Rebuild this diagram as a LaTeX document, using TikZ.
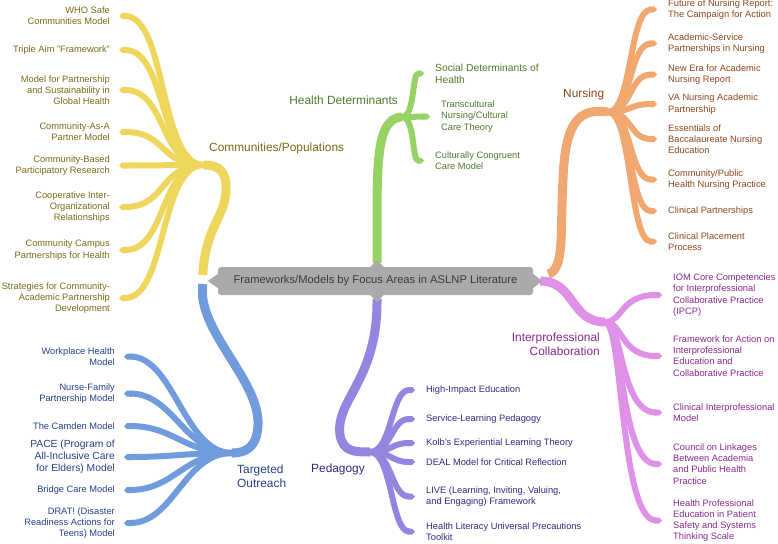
\documentclass[tikz,border=0pt]{standalone}
\usepackage{fontspec}
\setmainfont{Liberation Sans}
\usetikzlibrary{arrows.meta}
\definecolor{ylw}{RGB}{238,213,92}
\definecolor{ytx}{RGB}{122,106,22}
\definecolor{grn}{RGB}{150,210,100}
\definecolor{gtx}{RGB}{78,122,45}
\definecolor{org}{RGB}{240,168,112}
\definecolor{otx}{RGB}{140,72,30}
\definecolor{pnk}{RGB}{222,145,230}
\definecolor{ptx}{RGB}{138,40,142}
\definecolor{prp}{RGB}{146,134,224}
\definecolor{utx}{RGB}{48,42,128}
\definecolor{blu}{RGB}{112,156,222}
\definecolor{btx}{RGB}{36,64,136}
\definecolor{ctrgray}{RGB}{170,170,170}
\definecolor{ctrtx}{RGB}{58,58,58}

\begin{document}
\begin{tikzpicture}[x=1pt,y=-1pt,
	lf/.style={font=\fontsize{9.3}{11.2}\selectfont, inner ysep=0pt},
	lfl/.style={lf, anchor=east, align=right, inner xsep=9pt},
	lfr/.style={lf, anchor=west, align=left, inner xsep=11pt},
	big/.style={font=\fontsize{10.3}{12}\selectfont},
	hb/.style={font=\fontsize{11.9}{14}\selectfont, inner sep=0pt},
	twig/.style={line width=6pt, -{Triangle Cap}},
	stem/.style={line width=9pt}]
			%%%%% START %%%%%
			\useasboundingbox (0,0) rectangle (778,543);
			
			\node[fill=ctrgray, rounded corners=3pt, minimum width=315pt, minimum height=28pt, text=ctrtx, font=\fontsize{11.2}{13}\selectfont] (ctr) at (375.5,281) {Frameworks/Models by Focus Areas in ASLNP Literature};
			
			\coordinate (yhub) at (204,165);
			\coordinate (ghub) at (402,117);
			\coordinate (ohub) at (608,112);
			\coordinate (phub) at (605,322);
			\coordinate (uhub) at (370,452);
			\coordinate (bhub) at (232,453);
			
			% main stems
			\draw[stem, ylw] (ctr.west) ++(-15,-6) .. controls (205,225) and (228,215) .. (226,185) .. controls (225,168) and (215,165) .. (yhub);
			\draw[stem, blu] (ctr.west) ++(-15,3) .. controls (196,330) and (260,380) .. (258,425) .. controls (257,448) and (245,453) .. (bhub);
			\draw[stem, grn] (ctr.north) ++(1.5,-4) .. controls (378,180) and (372,118) .. (ghub);
			\draw[stem, prp] (ctr.south) ++(1.5,4) .. controls (378,380) and (335,400) .. (340,435) .. controls (343,452) and (355,452) .. (uhub);
			\draw[stem, org] (ctr.east) ++(15,-7) .. controls (565,270) and (560,230) .. (563,180) .. controls (565,120) and (580,108) .. (ohub);
			\draw[stem, pnk] (ctr.east) ++(7,0) .. controls (575,281) and (570,322) .. (phub);
			
			\fill[ctrgray] (ctr.west) ++(0,-7) -- ++(-10,7) -- ++(10,7) -- cycle;
			\fill[ctrgray] (ctr.east) ++(0,-7) -- ++(9,7) -- ++(-9,7) -- cycle;
			\fill[ctrgray] (ctr.north) ++(-5,0) -- ++(6.5,-7) -- ++(6.5,7) -- cycle;
			\fill[ctrgray] (ctr.south) ++(-5,0) -- ++(6.5,7) -- ++(6.5,-7) -- cycle;
			
			% Communities/Populations
			\node[hb, ytx, anchor=west] (ycp) at (209,148) {Communities/Populations};
			\node[lfl, ytx] (yw) at (119,16) {WHO Safe\\Communities Model};
			\node[lfl, ytx] (yt) at (119,50) {Triple Aim "Framework"};
			\node[lfl, ytx] (ym) at (119,90) {Model for Partnership\\and Sustainability in\\Global Health};
			\node[lfl, ytx] (ya) at (119,132) {Community-As-A\\Partner Model};
			\node[lfl, ytx] (yb) at (119,165.5) {Community-Based\\Participatory Research};
			\node[lfl, ytx] (yc) at (119,207) {Cooperative Inter-\\Organizational\\Relationships};
			\node[lfl, ytx] (yp) at (119,250) {Community Campus\\Partnerships for Health};
			\node[lfl, ytx] (ys) at (119,298) {Strategies for Community-\\Academic Partnership\\Development};
			\foreach \n in {yw,yt,ym,ya,yb,yc,yp,ys}
				\draw[twig, ylw] (yhub) .. controls +(-45,0) and +(48,0) .. (\n.east);
			
			% Targeted Outreach
			\node[hb, btx, anchor=west, align=left] (bto) at (237,476) {Targeted\\Outreach};
			\node[lfl, btx] (bw) at (124,356.5) {Workplace Health\\Model};
			\node[lfl, btx] (bn) at (124,393.5) {Nurse-Family\\Partnership Model};
			\node[lfl, btx] (bc) at (124,426) {The Camden Model};
			\node[lfl, btx, big] (bp) at (124,457) {PACE (Program of\\All-Inclusive Care\\for Elders) Model};
			\node[lfl, btx] (bb) at (124,490) {Bridge Care Model};
			\node[lfl, btx] (bd) at (124,523) {DRAT! (Disaster\\Readiness Actions for\\Teens) Model};
			\foreach \n in {bw,bn,bc,bp,bb,bd}
				\draw[twig, blu] (bhub) .. controls +(-48,0) and +(50,0) .. (\n.east);
			
			% Health Determinants
			\node[hb, gtx, anchor=east] (ghd) at (398,100) {Health Determinants};
			\node[lfr, gtx, big] (gs) at (424,73.5) {Social Determinants of\\Health};
			\node[lfr, gtx] (gt) at (430,116.5) {Transcultural\\Nursing/Cultural\\Care Theory};
			\node[lfr, gtx] (gc) at (424,160.5) {Culturally Congruent\\Care Model};
			\foreach \n in {gs,gt,gc}
				\draw[twig, grn] (ghub) .. controls +(13,0) and +(-12,0) .. (\n.west);
			
			% Nursing
			\node[hb, otx, anchor=west] (onu) at (563,94) {Nursing};
			\node[lfr, otx] (of) at (657,9.5) {Future of Nursing Report:\\The Campaign for Action};
			\node[lfr, otx] (oa) at (657,43.5) {Academic-Service\\Partnerships in Nursing};
			\node[lfr, otx] (on) at (657,74.5) {New Era for Academic\\Nursing Report};
			\node[lfr, otx] (ov) at (657,104) {VA Nursing Academic\\Partnership};
			\node[lfr, otx] (oe) at (657,139) {Essentials of\\Baccalaureate Nursing\\Education};
			\node[lfr, otx] (oc) at (657,179.5) {Community/Public\\Health Nursing Practice};
			\node[lfr, otx] (op) at (657,211) {Clinical Partnerships};
			\node[lfr, otx] (ol) at (657,241.5) {Clinical Placement\\Process};
			\foreach \n in {of,oa,on,ov,oe,oc,op,ol}
				\draw[twig, org] (ohub) .. controls +(24,0) and +(-28,0) .. (\n.west);
			
			% Interprofessional Collaboration
			\node[hb, ptx, anchor=east, align=right] (pic) at (600,344.5) {Interprofessional\\Collaboration};
			\node[lfr, ptx] (pi) at (662,295) {IOM Core Competencies\\for Interprofessional\\Collaborative Practice\\(IPCP)};
			\node[lfr, ptx] (pf) at (662,356) {Framework for Action on\\Interprofessional\\Education and\\Collaborative Practice};
			\node[lfr, ptx] (pc) at (662,412.5) {Clinical Interprofessional\\Model};
			\node[lfr, ptx] (pl) at (662,464) {Council on Linkages\\Between Academia\\and Public Health\\Practice};
			\node[lfr, ptx] (ph) at (662,520.5) {Health Professional\\Education in Patient\\Safety and Systems\\Thinking Scale};
			\foreach \n in {pi,pf,pc,pl,ph}
				\draw[twig, pnk] (phub) .. controls +(18,0) and +(-42,0) .. (\n.west);
			
			% Pedagogy
			\node[hb, utx, anchor=west] (ued) at (311,469) {Pedagogy};
			\node[lfr, utx] (uh) at (415,390) {High-Impact Education};
			\node[lfr, utx] (us) at (415,419) {Service-Learning Pedagogy};
			\node[lfr, utx] (uk) at (415,443) {Kolb's Experiential Learning Theory};
			\node[lfr, utx] (ud) at (415,462) {DEAL Model for Critical Reflection};
			\node[lfr, utx] (ul) at (415,496.5) {LIVE (Learning, Inviting, Valuing,\\and Engaging) Framework};
			\node[lfr, utx] (ut) at (415,531.5) {Health Literacy Universal Precautions\\Toolkit};
			\foreach \n in {uh,us,uk,ud,ul,ut}
				\draw[twig, prp] (uhub) .. controls +(22,0) and +(-24,0) .. (\n.west);
			%%%%% END %%%%%
\end{tikzpicture}
\end{document}
